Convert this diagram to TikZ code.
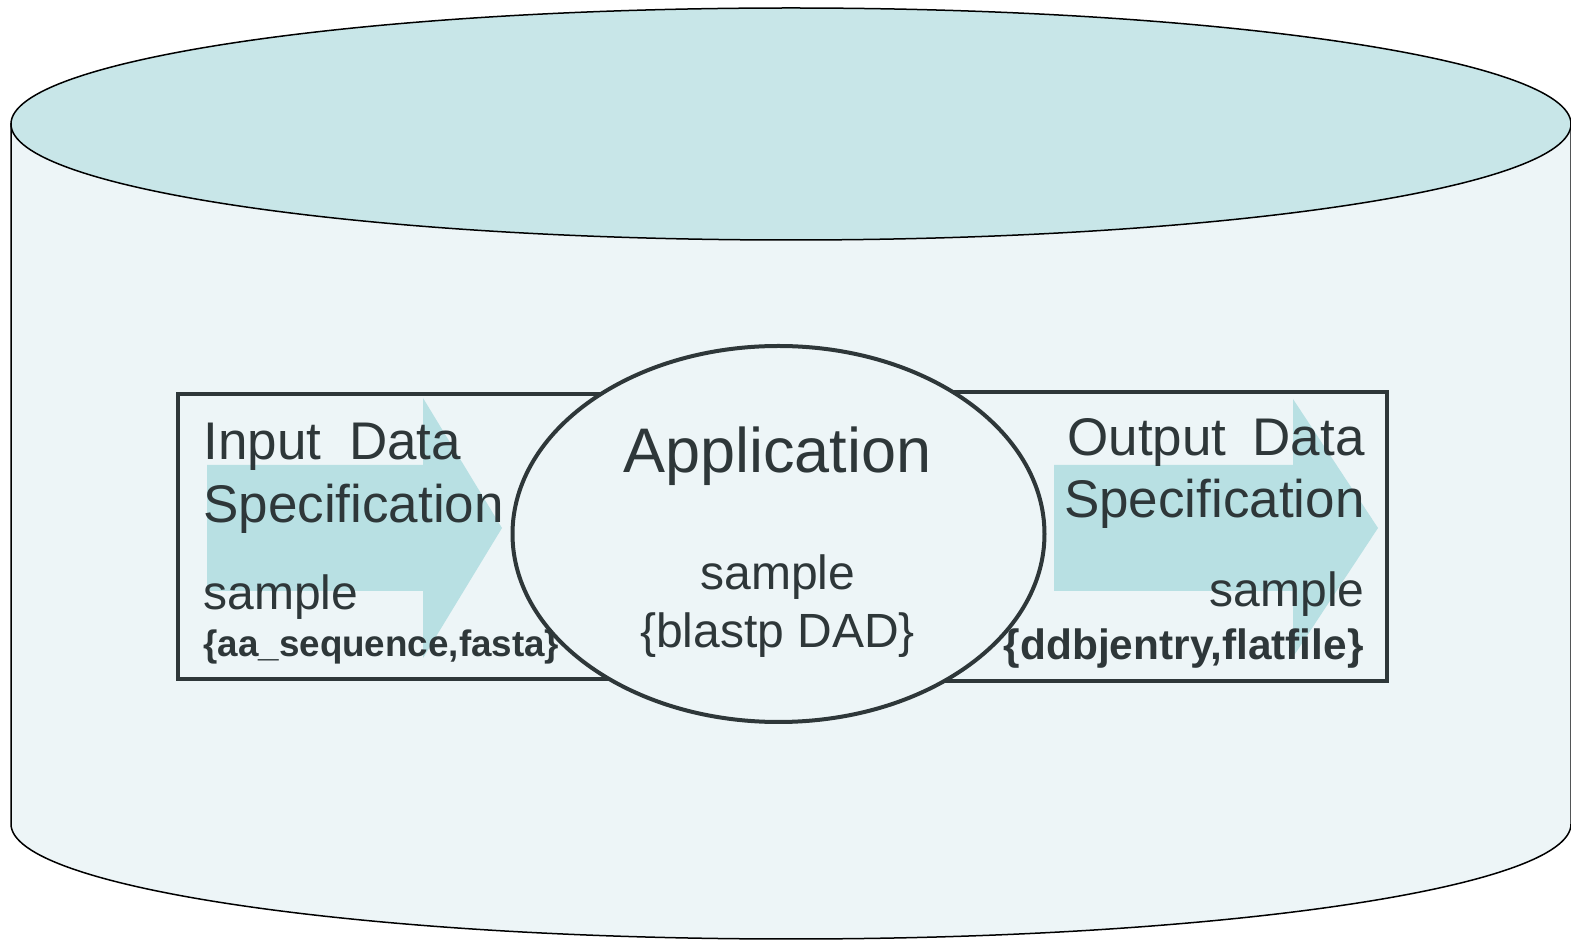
\documentclass[tikz,border=0pt]{standalone}
\usepackage{fontspec}
\setmainfont{Liberation Sans}
\definecolor{drumtop}{HTML}{C8E6E8}
\definecolor{drumbody}{HTML}{EDF5F7}
\definecolor{flow}{HTML}{B8E0E3}
\definecolor{ink}{HTML}{2E3739}
\begin{document}
\begin{tikzpicture}[x=0.5pt,y=-0.5pt,
    frame/.style={draw=ink,line width=2pt},
    spec/.style={inner sep=0pt,text=ink,font=\fontsize{26.5}{30}\selectfont},
    small/.style={inner sep=0pt,text=ink,font=\fontsize{24}{28}\selectfont}]
        \useasboundingbox (0,0) rectangle (1571,940);
        %% cylinder
        \draw[fill=drumbody,line width=0.75pt] (11,124) -- (11,824)
            arc[start angle=180,end angle=0,x radius=780,y radius=115] -- (1571,124) -- cycle;
        \draw[fill=drumtop,line width=0.75pt] (791,124) ellipse [x radius=780,y radius=116];
        %% block arrows
        \fill[flow] (207,465) -- (423,465) -- (423,398) -- (502,528) -- (423,658) -- (423,591) -- (207,591) -- cycle;
        \fill[flow] (1054,465) -- (1293,465) -- (1293,399) -- (1378,528) -- (1293,657) -- (1293,591) -- (1054,591) -- cycle;
        %% input / output frames
        \draw[frame] (178,394) rectangle (780,679);
        \draw[frame] (778,392) rectangle (1387,681);
        %% application
        \draw[frame,fill=drumbody] (778.5,534) ellipse [x radius=266,y radius=188];
        \node[spec,anchor=base west] (inhead) at (203,460) {Input\hspace{14pt}Data};
        \node[spec,anchor=base west] (inspec) at (203,523) {Specification};
        \node[small,anchor=base west] (insample) at (203,610) {sample};
        \node[inner sep=0pt,text=ink,anchor=base west,font=\fontsize{18.4}{22}\selectfont\bfseries] (intype) at (203,657) {\{aa\_sequence,fasta\}};
        \node[spec,anchor=base east] (outhead) at (1365,456) {Output\hspace{13pt}Data};
        \node[spec,anchor=base east] (outspec) at (1365,518) {Specification};
        \node[small,anchor=base east] (outsample) at (1365,607) {sample};
        \node[inner sep=0pt,text=ink,anchor=base east,font=\fontsize{21.2}{25}\selectfont\bfseries] (outtype) at (1364,660) {\{ddbjentry,flatfile\}};
        \node[inner sep=0pt,text=ink,anchor=base,font=\fontsize{31.5}{36}\selectfont] (app) at (777.5,473) {Application};
        \node[small,anchor=base] (appsample) at (778,590) {sample};
        \node[small,anchor=base] (apptool) at (777.5,648) {\{blastp DAD\}};
    \end{tikzpicture}
\end{document}
